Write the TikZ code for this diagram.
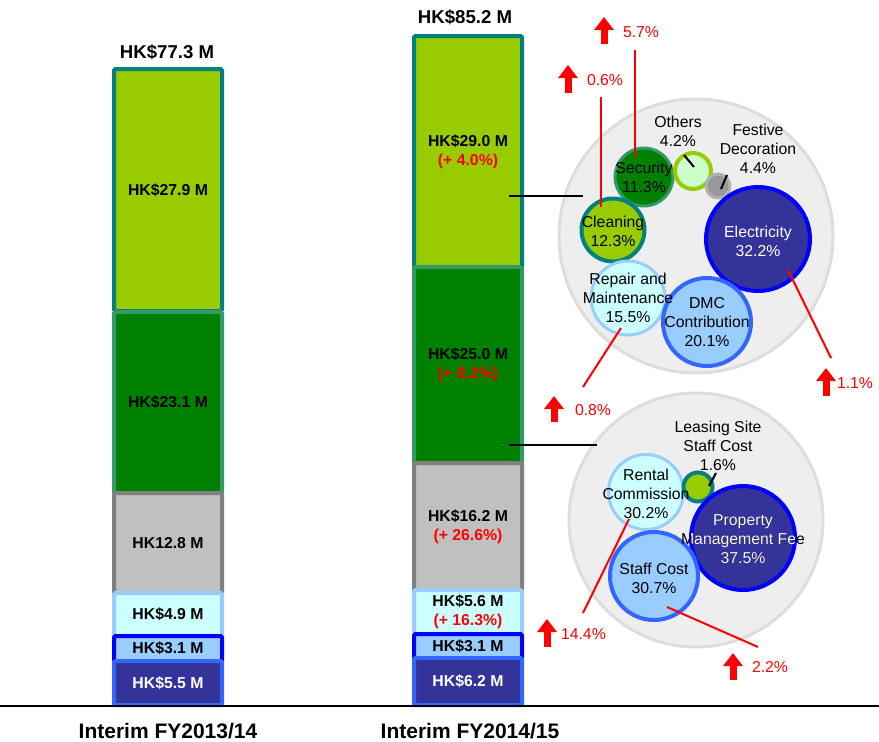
\documentclass[tikz,border=0pt]{standalone}
\usepackage{fontspec}
\setmainfont{Liberation Sans}
\usetikzlibrary{arrows.meta,positioning}
\definecolor{limeF}{HTML}{99CC00}
\definecolor{tealB}{HTML}{008080}
\definecolor{dgreenF}{HTML}{008000}
\definecolor{seaB}{HTML}{339966}
\definecolor{greyF}{HTML}{C0C0C0}
\definecolor{greyB}{HTML}{808080}
\definecolor{paleF}{HTML}{CCFFFF}
\definecolor{paleB}{HTML}{99CCFF}
\definecolor{skyF}{HTML}{99CCFF}
\definecolor{blueB}{HTML}{0000FF}
\definecolor{navyF}{HTML}{333399}
\definecolor{royalB}{HTML}{3366FF}
\definecolor{mintF}{HTML}{CCFFCC}
\definecolor{bubF}{HTML}{EEEEEE}
\definecolor{bubB}{HTML}{DDDDDD}
\definecolor{festF}{HTML}{999999}
\definecolor{festB}{HTML}{B2B2B2}

\begin{document}
\begin{tikzpicture}[x=1pt,y=-1pt,
  every node/.style={align=center,inner sep=0pt,outer sep=0pt},
  seg/.style={draw,line width=4pt,rounded corners=1.5pt,minimum width=108,font=\fontsize{15.8}{19}\selectfont\bfseries},
  bub/.style={circle,draw,line width=3pt},
  txt/.style={font=\fontsize{15.8}{19}\selectfont},
  pct/.style={text=red,anchor=west,font=\fontsize{15.8}{19}\selectfont},
  rise/.style={red,line width=7pt,-{Triangle[width=19pt,length=13pt]}},
  redline/.style={red,line width=2pt},
  lead/.style={black,line width=2.5pt}]
\useasboundingbox (0,0) rectangle (879,742);

% FY2013/14 bar
\node[seg,fill=limeF,draw=tealB,minimum height=242] (l1) at (168,190) {HK\$27.9 M};
\node[seg,fill=dgreenF,draw=seaB,minimum height=181] (l2) at (168,402.5) {HK\$23.1 M};
\node[seg,fill=greyF,draw=greyB,minimum height=100] (l3) at (168,543) {HK12.8 M};
\node[seg,fill=paleF,draw=paleB,minimum height=43] (l4) at (168,614.5) {HK\$4.9 M};
\node[seg,fill=skyF,draw=blueB,minimum height=25] (l5) at (168,648.5) {HK\$3.1 M};
\node[seg,fill=navyF,draw=royalB,minimum height=44,text=white] (l6) at (168,683) {HK\$5.5 M};
\node[font=\fontsize{18.6}{20}\selectfont\bfseries] (t1) at (167,52) {HK\$77.3 M};

% FY2014/15 bar
\node[seg,fill=limeF,draw=tealB,minimum height=231] (r1) at (468,151.5) {HK\$29.0 M\\\textcolor{red}{(+ 4.0\%)}};
\node[seg,fill=dgreenF,draw=seaB,minimum height=196] (r2) at (468,365) {HK\$25.0 M\\\textcolor{red}{(+ 8.2\%)}};
\node[seg,fill=greyF,draw=greyB,minimum height=127] (r3) at (468,526.5) {HK\$16.2 M\\\textcolor{red}{(+ 26.6\%)}};
\node[seg,fill=paleF,draw=paleB,minimum height=44] (r4) at (468,612) {HK\$5.6 M\\\textcolor{red}{(+ 16.3\%)}};
\node[seg,fill=skyF,draw=blueB,minimum height=24] (r5) at (468,646) {HK\$3.1 M};
\node[seg,fill=navyF,draw=royalB,minimum height=47,text=white] (r6) at (468,681.5) {HK\$6.2 M};
\node[font=\fontsize{18.6}{20}\selectfont\bfseries] (t2) at (465,17) {HK\$85.2 M};

% axis
\coordinate (axL) at (0,706);
\coordinate (axR) at (879,706);
\draw[line width=2.5pt] (axL) -- (axR);
\node[font=\fontsize{21}{22}\selectfont\bfseries] (fy1) at (168,731) {Interim FY2013/14};
\node[font=\fontsize{21}{22}\selectfont\bfseries] (fy2) at (470,731) {Interim FY2014/15};

% breakdown bubbles
\node[bub,fill=bubF,draw=bubB,minimum size=274] (opex1) at (696,236) {};
\node[bub,fill=bubF,draw=bubB,minimum size=254] (opex2) at (696,520) {};
\coordinate (j1a) at (509,196);
\coordinate (j1b) at (583,196);
\coordinate (j2a) at (509,445);
\coordinate (j2b) at (597,445);
\draw[lead] (j1a) -- (j1b);
\draw[lead] (j2a) -- (j2b);

\node[bub,fill=dgreenF,draw=seaB,minimum size=58] (sec) at (644,177) {};
\node[bub,fill=mintF,draw=limeF,line width=4pt,minimum size=36] (oth) at (693,171) {};
\node[bub,fill=festF,draw=festB,minimum size=24] (fest) at (718,186) {};
\node[bub,fill=limeF,draw=tealB,line width=4pt,minimum size=63] (clean) at (613,230) {};
\node[bub,fill=navyF,draw=blueB,line width=4pt,minimum size=104] (elec) at (758,239) {};
\node[bub,fill=paleF,draw=paleB,minimum size=74] (rep) at (628,298) {};
\node[bub,fill=skyF,draw=royalB,line width=4pt,minimum size=88] (dmc) at (707,322) {};

\node[bub,fill=paleF,draw=paleB,minimum size=75] (rent) at (646,492) {};
\node[bub,fill=limeF,draw=tealB,line width=4pt,minimum size=29] (lease) at (698,487) {};
\node[bub,fill=navyF,draw=blueB,line width=4pt,minimum size=104] (pmf) at (743,538) {};
\node[bub,fill=skyF,draw=royalB,line width=4pt,minimum size=88] (staff) at (654,576) {};

% small leaders
\coordinate (othA) at (684,155);
\coordinate (othB) at (694,167);
\coordinate (festA) at (727,175);
\coordinate (festB) at (721,189);
\coordinate (leaseA) at (716,473);
\coordinate (leaseB) at (709,486);
\draw[line width=2pt] (othA) -- (othB);
\draw[line width=2pt] (festA) -- (festB);
\draw[line width=2pt] (leaseA) -- (leaseB);

% red change lines
\coordinate (secA) at (635,50);
\coordinate (secB) at (635,157);
\coordinate (clnA) at (601,97);
\coordinate (clnB) at (601,207);
\coordinate (elcA) at (788,270);
\coordinate (elcB) at (831,358);
\coordinate (repA) at (621,328);
\coordinate (repB) at (583,387);
\coordinate (rntA) at (629,519);
\coordinate (rntB) at (583,613);
\coordinate (stfA) at (667,607);
\coordinate (stfB) at (758,647);
\draw[redline] (secA) -- (secB);
\draw[redline] (clnA) -- (clnB);
\draw[redline] (elcA) -- (elcB);
\draw[redline] (repA) -- (repB);
\draw[redline] (rntA) -- (rntB);
\draw[redline] (stfA) -- (stfB);

% bubble labels
\node[txt] (secl) at (sec) {Security\\11.3\%};
\node[txt] (othl) at (678,131) {Others\\4.2\%};
\node[txt] (festl) at (758,149) {Festive\\Decoration\\4.4\%};
\node[txt] (cleanl) at (613,231) {Cleaning\\12.3\%};
\node[txt,text=white] (elecl) at (758,241) {Electricity\\32.2\%};
\node[txt] (repl) at (628,298) {Repair and\\Maintenance\\15.5\%};
\node[txt] (dmcl) at (707,322) {DMC\\Contribution\\20.1\%};
\node[txt] (leasel) at (718,446) {Leasing Site\\Staff Cost\\1.6\%};
\node[txt] (rentl) at (646,494) {Rental\\Commission\\30.2\%};
\node[txt] (pmfl) at (743,539) {Property\\Management Fee\\37.5\%};
\begin{scope}
\clip (pmf.center) circle[radius=52pt];
\node[txt,text=white] (pmfw) at (743,539) {Property\\Management Fee\\37.5\%};
\end{scope}
\node[txt] (staffl) at (654,578) {Staff Cost\\30.7\%};

% up arrows
\coordinate (u57) at (604,44);
\coordinate (u06) at (568,93);
\coordinate (u11) at (826,396);
\coordinate (u08) at (554,422);
\coordinate (u144) at (547,647);
\coordinate (u22) at (733,680);
\draw[rise] (u57) -- ++(0,-27);
\draw[rise] (u06) -- ++(0,-28);
\draw[rise] (u11) -- ++(0,-28);
\draw[rise] (u08) -- ++(0,-26);
\draw[rise] (u144) -- ++(0,-28);
\draw[rise] (u22) -- ++(0,-27);
\node[pct] (p57) at (623,32) {5.7\%};
\node[pct] (p06) at (587,80) {0.6\%};
\node[pct] (p11) at (837,383) {1.1\%};
\node[pct] (p08) at (575,410) {0.8\%};
\node[pct] (p144) at (561,634) {14.4\%};
\node[pct] (p22) at (752,667) {2.2\%};
\end{tikzpicture}
\end{document}
